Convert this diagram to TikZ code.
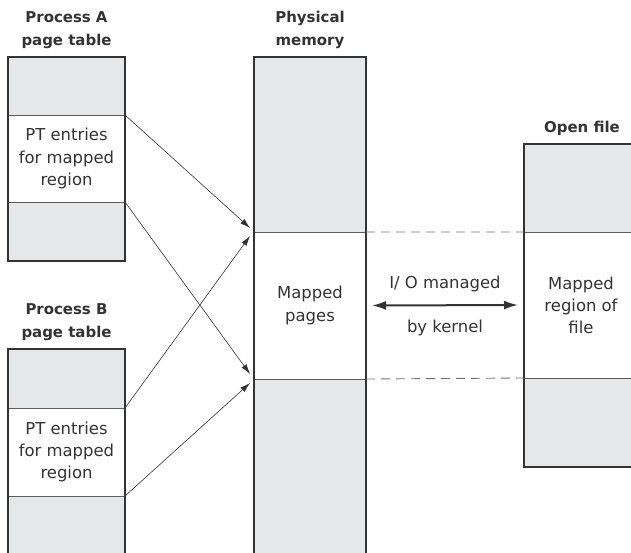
\documentclass[tikz,border=0pt]{standalone}
\usepackage{fontspec}
\setmainfont{DejaVu Sans}
\usetikzlibrary{positioning,calc,arrows.meta}
\definecolor{cellgray}{HTML}{E6E7E8}
\definecolor{ink}{HTML}{333333}
\tikzset{
  cell/.style={draw=ink!80, line width=0.8bp, fill=cellgray, minimum width=117bp,
    outer sep=0pt, inner sep=0pt, text=ink, align=center,
    font=\fontsize{16.5}{22.5}\selectfont},
  open/.style={fill=white},
  title/.style={font=\fontsize{15}{23}\selectfont\bfseries, text=ink, align=center},
  note/.style={font=\fontsize{16.5}{22}\selectfont, text=ink, inner sep=0pt},
  border/.style={draw=ink, line width=1.6bp},
  map/.style={-{Latex[length=10bp,width=6bp]}, ink, line width=0.6bp},
  io/.style={{Latex[length=14bp,width=9bp]}-{Latex[length=14bp,width=9bp]}, ink, line width=2bp},
  guide/.style={draw=ink!70, dash pattern=on 9bp off 6bp, line width=0.9bp}
}
\begin{document}
\begin{tikzpicture}[x=1bp,y=-1bp]
\clip (0,0) rectangle (631,553);

% process A page table
\node[cell, anchor=north west, minimum height=58bp] (atop) at (8,57) {};
\node[cell, open, minimum height=87bp, below=0pt of atop] (amid) {PT entries\\for mapped\\region};
\node[cell, minimum height=59bp, below=0pt of amid] (abot) {};
\draw[border] (atop.north west) rectangle (abot.south east);
\node[title, above=5bp of atop] {Process A\\page table};

% process B page table
\node[cell, anchor=north west, minimum height=59bp] (btop) at (8,349) {};
\node[cell, open, minimum height=88bp, below=0pt of btop] (bmid) {PT entries\\for mapped\\region};
\node[cell, minimum height=80bp, below=0pt of bmid] (bbot) {};
\draw[border] (btop.north west) rectangle (bbot.south east);
\node[title, above=5bp of btop] {Process B\\page table};

% physical memory
\node[cell, anchor=north west, minimum width=112bp, minimum height=175bp] (mtop) at (254,57) {};
\node[cell, open, minimum width=112bp, minimum height=147bp, below=0pt of mtop] (mmid) {Mapped\\pages};
\node[cell, minimum width=112bp, minimum height=191bp, below=0pt of mmid] (mbot) {};
\draw[border] (mtop.north west) rectangle (mbot.south east);
\node[title, above=5bp of mtop] {Physical\\memory};

% open file
\node[cell, anchor=north west, minimum width=120bp, minimum height=88bp] (ftop) at (524,144) {};
\node[cell, open, minimum width=120bp, minimum height=146bp, below=0pt of ftop] (fmid) {};
\node[cell, minimum width=120bp, minimum height=89bp, below=0pt of fmid] (fbot) {};
\draw[border] (ftop.north west) rectangle (fbot.south east);
\node[note, align=center] at ($(fmid.west)+(57bp,0)$) {Mapped\\region of\\file};
\node[title, above=5bp of ftop.north west, anchor=south, xshift=58bp] {Open file};

% mappings
\draw[map] (amid.north east) -- ($(mmid.north west)+(-4bp,4bp)$);
\draw[map] (amid.south east) -- ($(mbot.north west)+(-4bp,5bp)$);
\draw[map] (bmid.north east) -- ($(mmid.north west)+(-4bp,-4bp)$);
\draw[map] (bmid.south east) -- ($(mbot.north west)+(-4bp,-4bp)$);

\draw[guide] (mmid.north east) -- (fmid.north west);
\draw[guide] (mbot.north east) -- (fbot.north west);

\draw[io, shorten <=6bp, shorten >=6bp] (mmid.east) --
  node[note, above=12bp] {I/ O managed}
  node[note, below=14bp] {by kernel} (fmid.west);
\end{tikzpicture}
\end{document}
